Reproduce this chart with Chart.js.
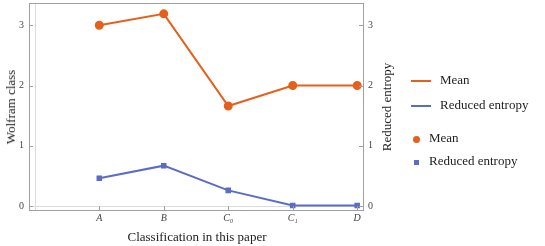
<!DOCTYPE html>
<html>
<head>
<meta charset="utf-8">
<script src="https://cdn.jsdelivr.net/npm/chart.js@4.4.1/dist/chart.umd.min.js"></script>
<style>
  body { margin: 0; background: #fff; }
  #wrap { position: relative; width: 545px; height: 246px; font-family: "Liberation Serif", serif; color: #222; }
  .item { position: absolute; white-space: nowrap; line-height: 14px; font-size: 13px; }
  .line { position: absolute; height: 2px; width: 20px; }
  .dot { position: absolute; }
  .vtitle { position: absolute; font-size: 13px; white-space: nowrap; transform: translate(-50%, -50%) rotate(-90deg); }
  .htitle { position: absolute; font-size: 13px; white-space: nowrap; transform: translate(-50%, -50%); }
</style>
</head>
<body>
<div id="wrap">
  <canvas id="chart" width="545" height="246"></canvas>
  <div class="vtitle" style="left:11px; top:107px">Wolfram class</div>
  <div class="vtitle" style="left:387px; top:107px">Reduced entropy</div>
  <div class="htitle" style="left:197px; top:237px">Classification in this paper</div>
</div>
<script>
const categories = ['A', 'B', 'C\u2080', 'C\u2081', 'D']
const positions = [1, 2, 3, 4, 5]
const meanValues = [3.0, 3.19, 1.66, 2.0, 2.0]
const entropyValues = [0.46, 0.67, 0.26, 0.01, 0.01]
const yTicks = [0, 1, 2, 3]

const orange = '#E5601C'
const blue = '#5B6CC6'
const serif = '"Liberation Serif", "DejaVu Serif", serif'

function points(vals) {
  return vals.map((v, i) => ({ x: positions[i], y: v }))
}

// frame, light zero lines, inward ticks
const framePlugin = {
  id: 'frame',
  beforeDatasetsDraw(chart) {
    const { ctx, chartArea: a, scales } = chart
    ctx.save()
    ctx.strokeStyle = '#dcdcdc'
    ctx.lineWidth = 1
    const x0 = Math.round(scales.x.getPixelForValue(0)) + 0.5
    const y0 = Math.round(scales.y.getPixelForValue(0)) + 0.5
    ctx.beginPath()
    ctx.moveTo(x0, a.top); ctx.lineTo(x0, a.bottom)
    ctx.moveTo(a.left, y0); ctx.lineTo(a.right, y0)
    ctx.stroke()
    ctx.restore()
  },
  afterDraw(chart) {
    const { ctx, chartArea: a, scales } = chart
    ctx.save()
    ctx.strokeStyle = '#a0a0a0'
    ctx.lineWidth = 1
    ctx.strokeRect(Math.round(a.left) + 0.5, Math.round(a.top) + 0.5, Math.round(a.right - a.left), Math.round(a.bottom - a.top))
    ctx.beginPath()
    yTicks.forEach(t => {
      const y = Math.round(scales.y.getPixelForValue(t)) + 0.5
      ctx.moveTo(a.left, y); ctx.lineTo(a.left + 4, y)
      ctx.moveTo(a.right, y); ctx.lineTo(a.right - 4, y)
    })
    positions.forEach(p => {
      const x = Math.round(scales.x.getPixelForValue(p)) + 0.5
      ctx.moveTo(x, a.bottom); ctx.lineTo(x, a.bottom - 4)
    })
    ctx.stroke()
    ctx.restore()
  }
}

const tickFont = { family: serif, size: 10 }
const noGrid = { display: false, drawTicks: false, tickLength: 0 }

function yAxis(pos, width) {
  return {
    position: pos,
    min: -0.066,
    max: 3.37,
    afterBuildTicks(s) { s.ticks = yTicks.map(v => ({ value: v })) },
    afterFit(s) { s.width = width; s.paddingTop = 0; s.paddingBottom = 0 },
    grid: noGrid,
    border: { display: false },
    ticks: { color: '#444', font: tickFont, padding: 5 }
  }
}

const config = {
  type: 'line',
  data: {
    datasets: [
      {
        label: 'Mean',
        data: points(meanValues),
        borderColor: orange,
        backgroundColor: orange,
        borderWidth: 2,
        pointRadius: 3.5,
        pointStyle: 'circle',
        yAxisID: 'y'
      },
      {
        label: 'Reduced entropy',
        data: points(entropyValues),
        borderColor: blue,
        backgroundColor: blue,
        borderWidth: 2,
        pointRadius: 2.5,
        pointStyle: 'rect',
        yAxisID: 'y'
      }
    ]
  },
  options: {
    responsive: false,
    animation: false,
    layout: { autoPadding: false, padding: { top: 3, right: 147, left: 0, bottom: 0 } },
    plugins: { legend: { display: false }, tooltip: { enabled: false } },
    scales: {
      x: {
        type: 'linear',
        min: -0.09,
        max: 5.09,
        afterBuildTicks(s) { s.ticks = positions.map(v => ({ value: v })) },
        afterFit(s) { s.height = 36; s.paddingLeft = 0; s.paddingRight = 0 },
        grid: noGrid,
        border: { display: false },
        ticks: {
          color: '#444',
          font: { family: serif, size: 10, style: 'italic' },
          padding: 2,
          maxRotation: 0,
          autoSkip: false,
          callback: v => categories[positions.indexOf(v)]
        }
      },
      y: yAxis('left', 29),
      y2: yAxis('right', 35)
    }
  },
  plugins: [framePlugin]
}

new Chart(document.getElementById('chart'), config)

// legend
const wrap = document.getElementById('wrap')
const legendRows = [
  { kind: 'line', color: orange, text: 'Mean', y: 81, sx: 411, tx: 440 },
  { kind: 'line', color: blue, text: 'Reduced entropy', y: 106, sx: 411, tx: 440 },
  { kind: 'circle', color: orange, text: 'Mean', y: 139, sx: 416, tx: 429 },
  { kind: 'square', color: blue, text: 'Reduced entropy', y: 162, sx: 416, tx: 429 }
]
legendRows.forEach(r => {
  const m = document.createElement('div')
  if (r.kind === 'line') {
    m.className = 'line'
    m.style.left = r.sx + 'px'; m.style.top = (r.y - 1) + 'px'
    m.style.background = r.color
  } else {
    const s = r.kind === 'circle' ? 7 : 5
    m.className = 'dot'
    m.style.width = s + 'px'; m.style.height = s + 'px'
    m.style.left = (r.sx - s / 2) + 'px'; m.style.top = (r.y - s / 2) + 'px'
    m.style.background = r.color
    if (r.kind === 'circle') m.style.borderRadius = '50%'
  }
  wrap.appendChild(m)
  const t = document.createElement('div')
  t.className = 'item'
  t.textContent = r.text
  t.style.left = r.tx + 'px'; t.style.top = (r.y - 8) + 'px'
  wrap.appendChild(t)
})
</script>
</body>
</html>
